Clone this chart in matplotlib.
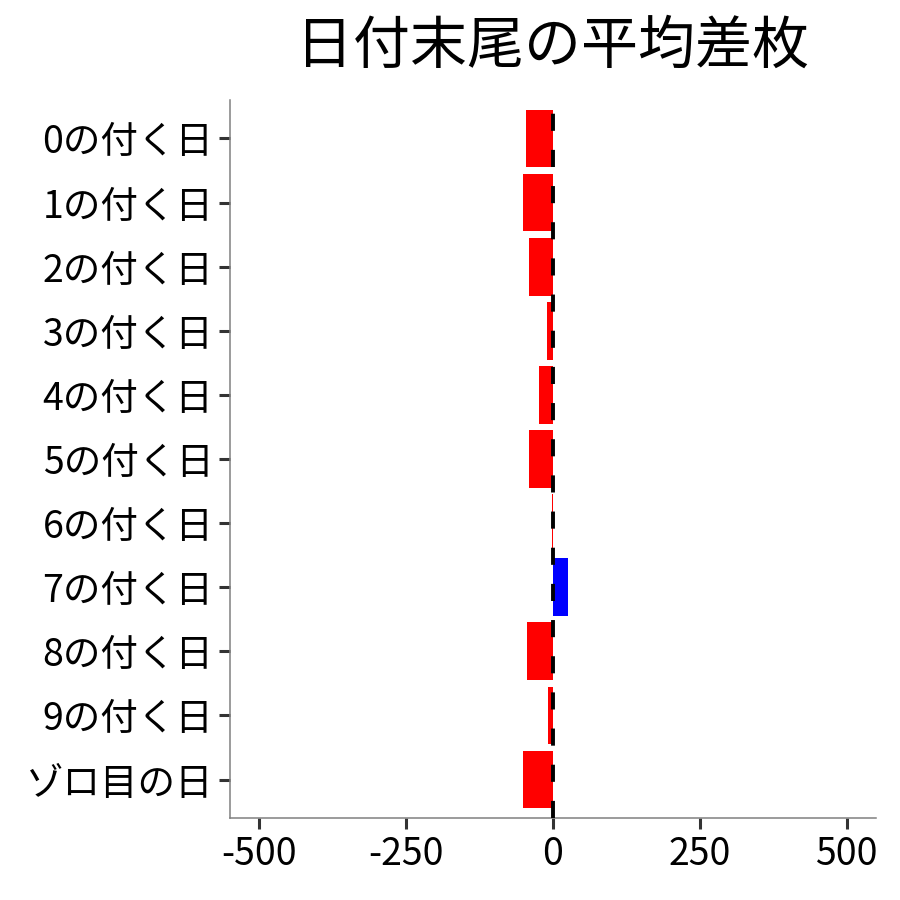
import matplotlib
matplotlib.use("Agg")
import matplotlib.pyplot as plt

plt.rcParams['font.family'] = ['Noto Sans CJK JP', 'DejaVu Sans']

categories = ["0の付く日", "1の付く日", "2の付く日", "3の付く日", "4の付く日",
              "5の付く日", "6の付く日", "7の付く日", "8の付く日", "9の付く日", "ゾロ目の日"]
values = [-46, -51, -41, -10, -24, -41, -1, 26, -44, -8, -51]
xticks = [-500, -250, 0, 250, 500]
xticklabels = ["-500", "-250", "0", "250", "500"]
title = "日付末尾の平均差枚"

fig = plt.figure(figsize=(9, 9), dpi=100)
ax = fig.add_axes([230/900, 82/900, 646/900, 718/900])

n = len(categories)
ypos = list(range(n))
colors = ["#FF0000" if v < 0 else "#0000FF" for v in values]
ax.barh(ypos, values, height=0.9, color=colors, zorder=2)
ax.axvline(0, color="black", linewidth=2.8, linestyle=(0, (4.4, 4.9)), zorder=3)

ax.set_xlim(-550, 550)
ax.set_ylim(n - 1 + 0.6, -0.6)
ax.set_yticks(ypos)
ax.set_yticklabels(categories, fontsize=27, color="black")
ax.set_xticks(xticks)
ax.set_xticklabels(xticklabels, fontsize=27, color="black")

for side in ["top", "right"]:
    ax.spines[side].set_visible(False)
for side in ["left", "bottom"]:
    ax.spines[side].set_color("#808080")
    ax.spines[side].set_linewidth(1.1)
ax.tick_params(axis="both", length=8, width=2.2, color="#333333", pad=4)

fig.text((230 + 876) / 2 / 900, 1 - 46/900, title, ha="center", va="center", fontsize=41, color="black")

fig.savefig("out.png", dpi=100, facecolor="white")
